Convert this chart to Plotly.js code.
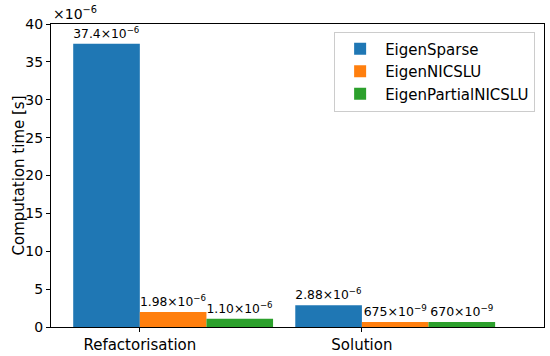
<!DOCTYPE html>
<html><head><meta charset="utf-8">
<script src="https://cdn.plot.ly/plotly-3.0.1.min.js"></script>
<style>body{margin:0;background:#fff}#chart{width:550px;height:356px}</style>
</head><body><div id="chart"></div>
<script>
const categories = ["Refactorisation", "Solution"];
const seriesNames = ["EigenSparse", "EigenNICSLU", "EigenPartialNICSLU"];
const eigenSparse = [37.4e-6, 2.88e-6];
const eigenNICSLU = [1.98e-6, 675e-9];
const eigenPartialNICSLU = [1.10e-6, 670e-9];
const labelsSparse = ["37.4×10<sup>−6</sup>", "2.88×10<sup>−6</sup>"];
const labelsNICSLU = ["1.98×10<sup>−6</sup>", "675×10<sup>−9</sup>"];
const labelsPartial = ["1.10×10<sup>−6</sup>", "670×10<sup>−9</sup>"];
const yTickValues = [0, 5, 10, 15, 20, 25, 30, 35, 40];
const yScale = 1e-6;
const yTitle = "Computation time [s]";

const colors = ["#1f77b4", "#ff7f0e", "#2ca02c"];
const offsets = [-0.3, 0, 0.3];
const series = [eigenSparse, eigenNICSLU, eigenPartialNICSLU];
const labels = [labelsSparse, labelsNICSLU, labelsPartial];
const xIdx = categories.map((c, i) => i);
const font = "DejaVu Sans, sans-serif";

const traces = series.map((vals, k) => ({
  type: "bar", name: seriesNames[k], x: xIdx, y: vals,
  width: 0.3, offset: offsets[k],
  marker: {color: colors[k], line: {width: 0}},
  text: labels[k], textposition: "outside", cliponaxis: false,
  textfont: {family: font, size: 12.5, color: "#000"},
  hoverinfo: "none"
}));

const layout = {
  width: 550, height: 356,
  margin: {l: 51, r: 6, t: 24, b: 29},
  paper_bgcolor: "#fff", plot_bgcolor: "#fff",
  font: {family: font, color: "#000"},
  showlegend: true,
  legend: {x: 0.982, y: 0.975, xanchor: "right", yanchor: "top",
    bordercolor: "#cccccc", borderwidth: 1, bgcolor: "rgba(255,255,255,0.8)",
    font: {family: font, size: 15}, tracegroupgap: 0, itemwidth: 40},
  xaxis: {range: [-0.4, 1.82], tickvals: xIdx, ticktext: categories,
    showgrid: false, zeroline: false, showline: true, linecolor: "#000", linewidth: 1,
    mirror: true, ticks: "outside", ticklen: 4, tickcolor: "#000",
    tickfont: {family: font, size: 15}},
  yaxis: {range: [0, 40 * yScale], tickvals: yTickValues.map(v => v * yScale),
    ticktext: yTickValues.map(String),
    showgrid: false, zeroline: false, showline: true, linecolor: "#000", linewidth: 1,
    mirror: true, ticks: "outside", ticklen: 4, tickcolor: "#000",
    tickfont: {family: font, size: 14}},
  annotations: [
    {text: "×10<sup>−6</sup>", xref: "paper", yref: "paper", x: 0.0, y: 1.0,
     xanchor: "left", yanchor: "bottom", showarrow: false, font: {family: font, size: 14}},
    {text: yTitle, xref: "paper", yref: "paper", x: 0, y: 0.5, xshift: -33,
     xanchor: "center", yanchor: "middle", textangle: -90, showarrow: false,
     font: {family: font, size: 15}}
  ]
};

Plotly.newPlot("chart", traces, layout, {staticPlot: true, displayModeBar: false});
</script></body></html>
